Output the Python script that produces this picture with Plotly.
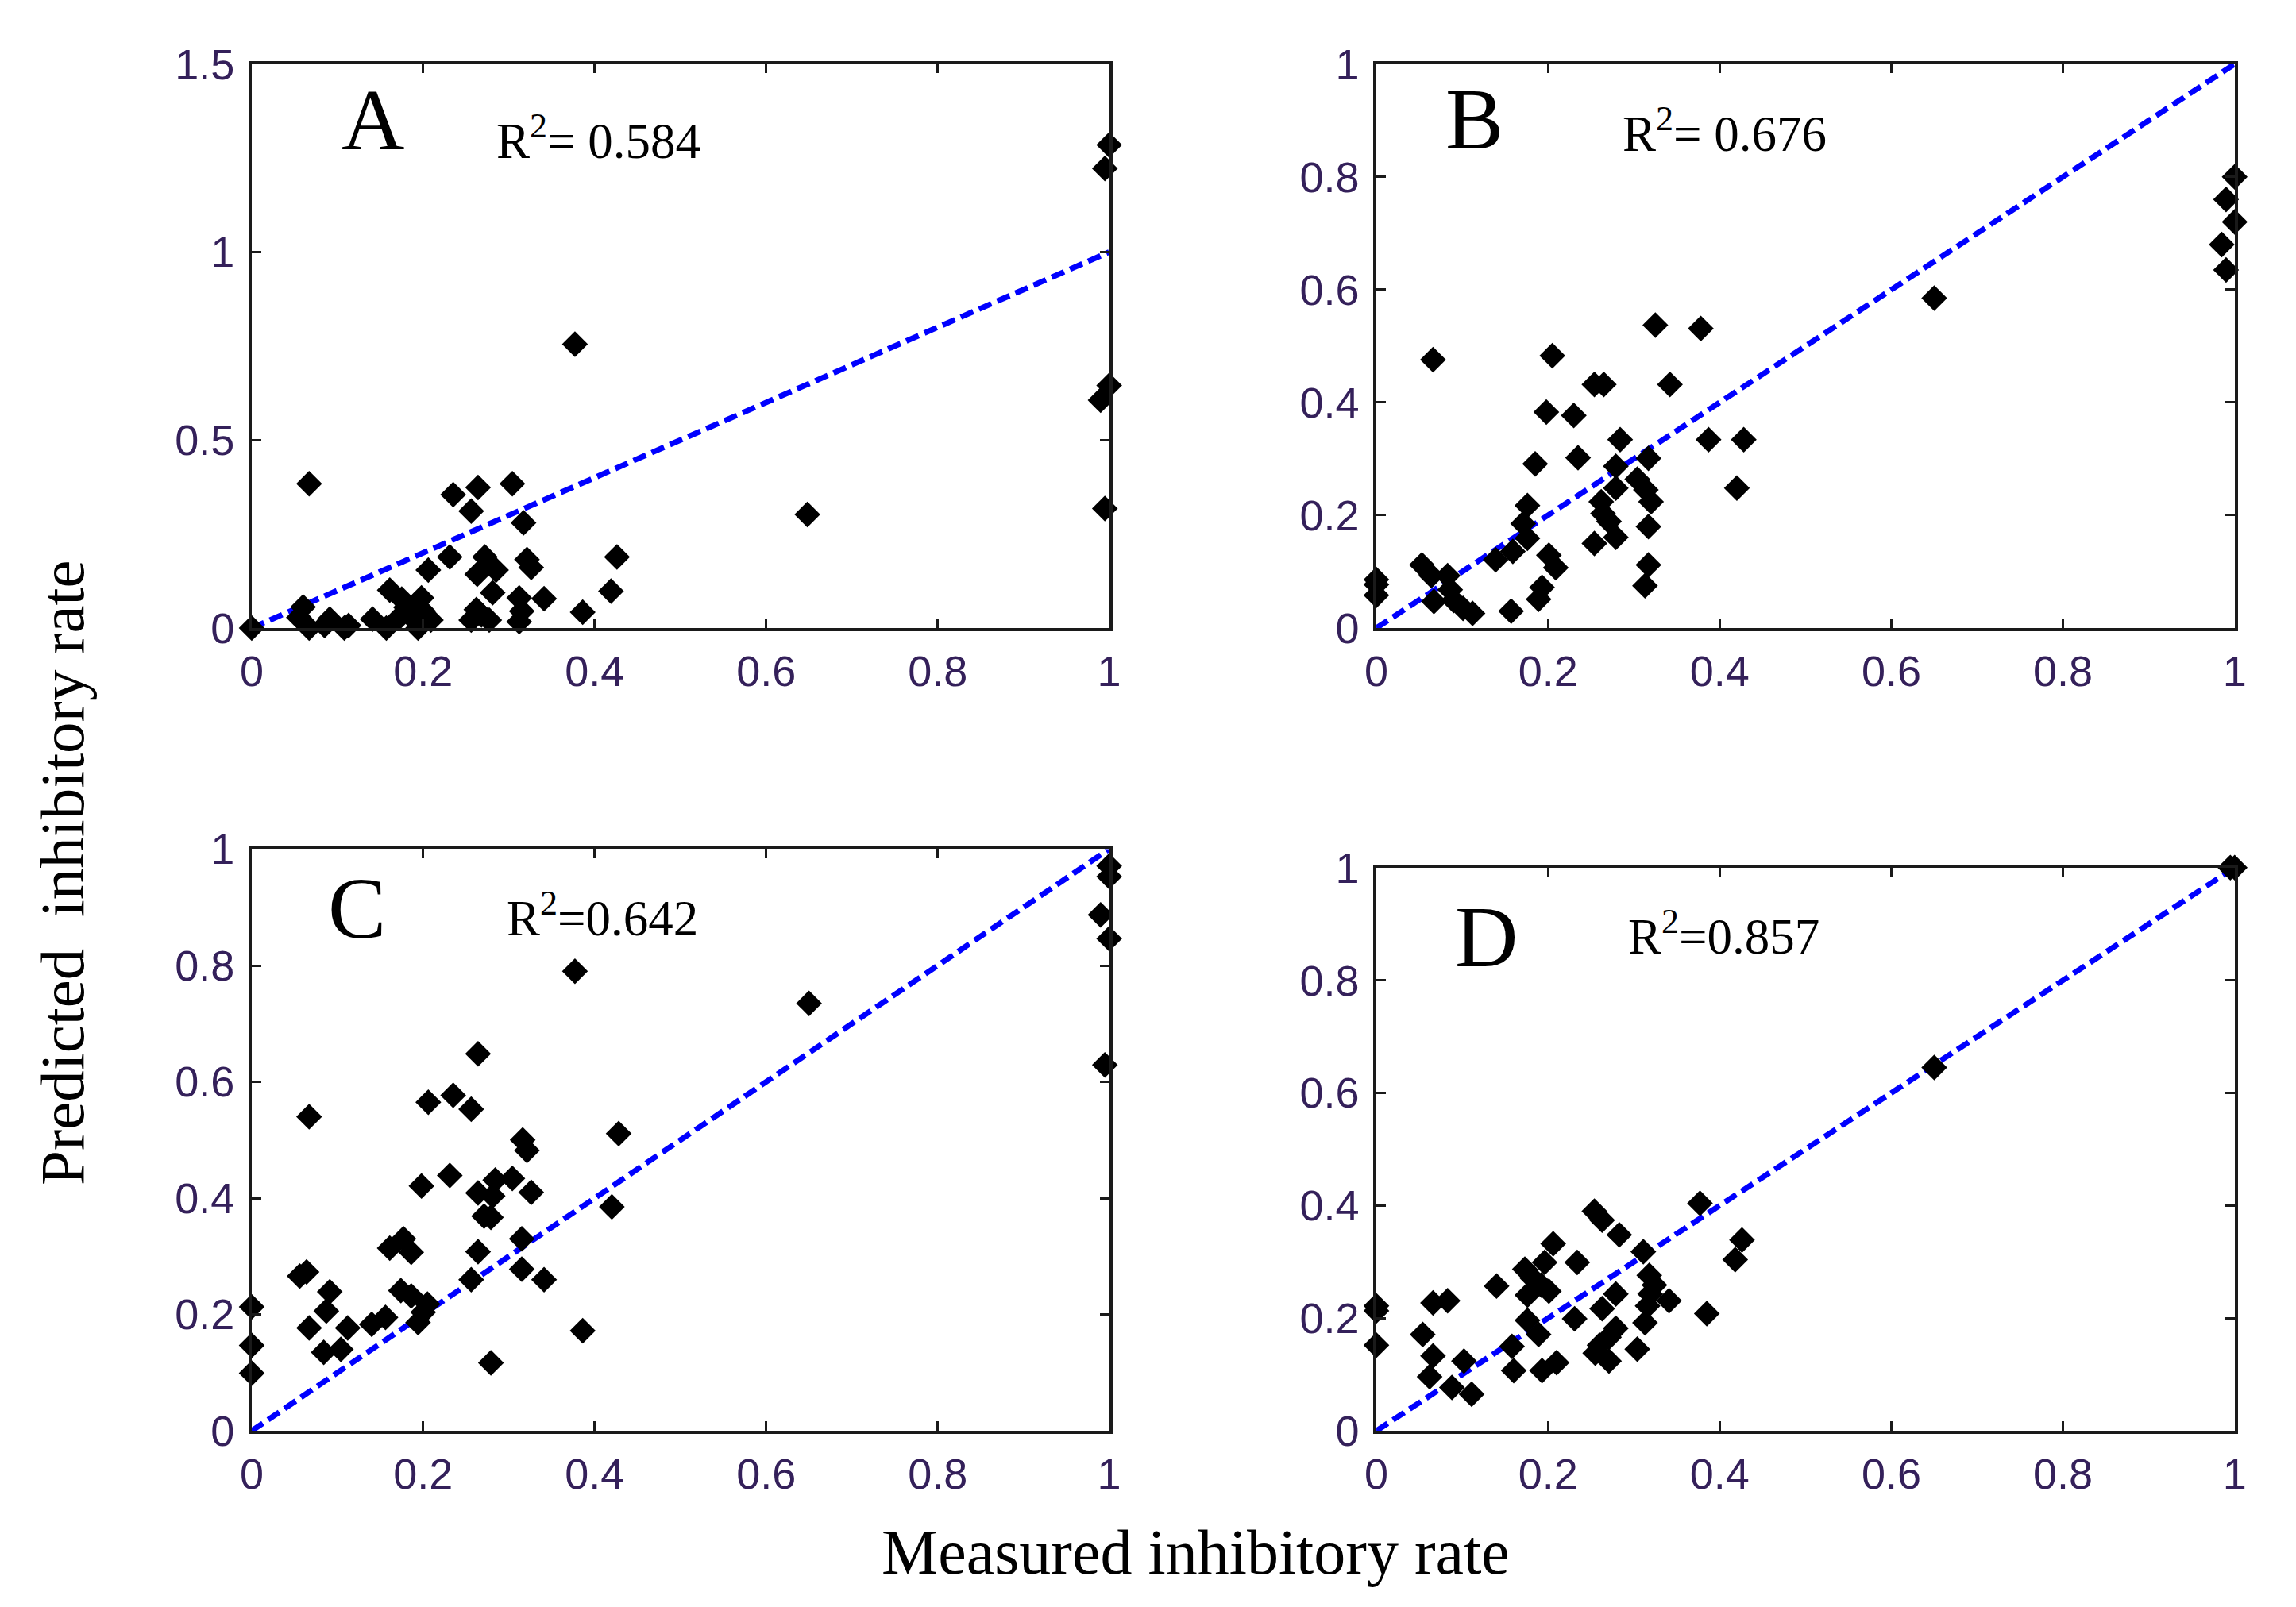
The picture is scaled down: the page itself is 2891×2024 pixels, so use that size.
import plotly.graph_objects as go

# ---------------- data ----------------
a_x = [0, 0.067, 0.06, 0.067, 0.055, 0.091, 0.085, 0.108, 0.113, 0.141, 0.157, 0.161, 0.175, 0.198, 0.184,
       0.194, 0.209, 0.172, 0.18, 0.19, 0.2, 0.206, 0.231, 0.235, 0.264, 0.256, 0.304, 0.317, 0.272, 0.285,
       0.263, 0.281, 0.262, 0.256, 0.277, 0.268, 0.321, 0.326, 0.312, 0.315, 0.312, 0.341, 0.386, 0.426, 0.419,
       0.377, 0.648, 1.0, 0.995, 0.99, 1.0, 0.995]
a_y = [0, 0.384, 0.056, 0.0, 0.028, 0.024, 0.007, 0.0, 0.007, 0.024, 0.0, 0.101, 0.077, 0.08, 0.035,
       0.0, 0.021, 0.028, 0.055, 0.06, 0.045, 0.154, 0.189, 0.355, 0.374, 0.311, 0.384, 0.28, 0.189, 0.154,
       0.143, 0.094, 0.049, 0.021, 0.021, 0.035, 0.182, 0.161, 0.08, 0.045, 0.017, 0.078, 0.042, 0.189, 0.098,
       0.755, 0.302, 1.285, 1.222, 0.606, 0.645, 0.318]

b_x = [0.066, 0.205, 0.325, 0.378, 0.254, 0.265, 0.342, 0.198, 0.23, 0.284, 0.387, 0.428, 0.185, 0.235, 0.317,
       0.279, 0.279, 0.42, 0.304, 0.314, 0.32, 0.262, 0.264, 0.271, 0.279, 0.254, 0.317, 0.317, 0.313, 0.176,
       0.171, 0.176, 0.159, 0.139, 0.201, 0.209, 0.193, 0.189, 0.157, 0, 0, 0, 0.053, 0.064, 0.083,
       0.067, 0.086, 0.09, 0.101, 0.112, 0.65, 1.0, 0.99, 1.0, 0.985, 0.99]
b_y = [0.476, 0.483, 0.537, 0.531, 0.432, 0.432, 0.432, 0.383, 0.377, 0.334, 0.334, 0.334, 0.291, 0.302, 0.301,
       0.287, 0.248, 0.248, 0.264, 0.245, 0.224, 0.224, 0.203, 0.189, 0.161, 0.15, 0.18, 0.112, 0.075, 0.217,
       0.185, 0.159, 0.136, 0.121, 0.129, 0.107, 0.072, 0.051, 0.03, 0.086, 0.077, 0.058, 0.112, 0.093, 0.093,
       0.047, 0.068, 0.049, 0.035, 0.026, 0.585, 0.80, 0.76, 0.72, 0.68, 0.635]

c_x = [0.264, 0.067, 0.206, 0.235, 0.256, 0.428, 0.316, 0.321, 0.231, 0.198, 0.284, 0.304, 0.264, 0.281, 0.326,
       0.271, 0.279, 0.42, 0.315, 0.264, 0.315, 0.341, 0.256, 0.177, 0.161, 0.186, 0.056, 0.064, 0.091, 0.087,
       0.067, 0.112, 0.14, 0.156, 0.174, 0.186, 0.205, 0.2, 0.194, 0.084, 0.104, 0, 0, 0, 0.279,
       0.386, 0.377, 0.65, 1.0, 1.0, 0.99, 1.0, 0.995]
c_y = [0.648, 0.54, 0.565, 0.577, 0.553, 0.511, 0.5, 0.482, 0.439, 0.421, 0.431, 0.434, 0.409, 0.404, 0.41,
       0.369, 0.367, 0.385, 0.33, 0.308, 0.278, 0.26, 0.26, 0.33, 0.314, 0.307, 0.266, 0.273, 0.239, 0.206,
       0.177, 0.177, 0.183, 0.195, 0.241, 0.232, 0.218, 0.204, 0.186, 0.135, 0.14, 0.213, 0.147, 0.099, 0.117,
       0.172, 0.79, 0.735, 0.971, 0.953, 0.887, 0.846, 0.629]

d_x = [0.377, 0.254, 0.263, 0.283, 0.426, 0.418, 0.206, 0.196, 0.234, 0.311, 0.173, 0.182, 0.192, 0.201, 0.176,
       0.14, 0.318, 0.324, 0.319, 0.341, 0.316, 0.313, 0.279, 0.263, 0.385, 0.231, 0.176, 0.189, 0.279, 0.271,
       0.26, 0.255, 0.271, 0.304, 0.158, 0.16, 0.193, 0.21, 0.066, 0.083, 0.054, 0.066, 0.102, 0.062, 0.088,
       0.111, 0, 0, 0, 0.65, 1.0, 0.995]
d_y = [0.404, 0.39, 0.374, 0.348, 0.339, 0.304, 0.332, 0.299, 0.299, 0.318, 0.287, 0.271, 0.259, 0.248, 0.241,
       0.257, 0.276, 0.259, 0.243, 0.231, 0.222, 0.192, 0.243, 0.217, 0.208, 0.199, 0.196, 0.171, 0.182, 0.166,
       0.152, 0.138, 0.124, 0.145, 0.15, 0.107, 0.107, 0.121, 0.227, 0.231, 0.171, 0.133, 0.124, 0.096, 0.077,
       0.065, 0.213, 0.222, 0.152, 0.645, 1.0, 1.0]

line_x = [0, 1]
line_y = [0, 1]

panel_letters = ["A", "B", "C", "D"]
r2_labels = ["R<sup>2</sup>= 0.584", "R<sup>2</sup>= 0.676", "R<sup>2</sup>=0.642", "R<sup>2</sup>=0.857"]

x_ticks = [0, 0.2, 0.4, 0.6, 0.8, 1]
x_ticktext = ["0", "0.2", "0.4", "0.6", "0.8", "1"]
ya_ticks = [0, 0.5, 1, 1.5]
ya_ticktext = ["0", "0.5", "1", "1.5"]
y_ticks = [0, 0.2, 0.4, 0.6, 0.8, 1]
y_ticktext = ["0", "0.2", "0.4", "0.6", "0.8", "1"]

# ---------------- layout geometry ----------------
W, H = 2891, 2024
def px_x(v): return v / W
def px_y(v): return 1 - v / H

domains = {
    1: ([px_x(297), px_x(1388)], [px_y(776), px_y(44)]),
    2: ([px_x(1728), px_x(2820)], [px_y(776), px_y(44)]),
    3: ([px_x(297), px_x(1388)], [px_y(1818), px_y(1063)]),
    4: ([px_x(1728), px_x(2820)], [px_y(1818), px_y(1087)]),
}

fig = go.Figure()

series = [(a_x, a_y), (b_x, b_y), (c_x, c_y), (d_x, d_y)]
for i, (xs, ys) in enumerate(series, start=1):
    xa = "x" if i == 1 else f"x{i}"
    ya = "y" if i == 1 else f"y{i}"
    fig.add_trace(go.Scatter(x=line_x, y=line_y, mode="lines", xaxis=xa, yaxis=ya,
                             line=dict(color="#0000ff", width=7, dash="17px,8px"),
                             showlegend=False, hoverinfo="skip", cliponaxis=False))
    fig.add_trace(go.Scatter(x=xs, y=ys, mode="markers", xaxis=xa, yaxis=ya,
                             marker=dict(symbol="diamond", size=25, color="black", line=dict(width=0)),
                             showlegend=False, cliponaxis=False))

tick_font = dict(family="Liberation Sans Narrow, Arial Narrow, Liberation Sans, Arial", size=54, color="#34205a")
axis_common = dict(showline=True, linecolor="#1a1a1a", linewidth=3.5, mirror="ticks", ticks="inside",
                   ticklen=12, tickwidth=3, tickcolor="#1a1a1a", showgrid=False, zeroline=False,
                   tickfont=tick_font, fixedrange=True)

layout = dict(width=W, height=H, margin=dict(l=0, r=0, t=0, b=0),
              paper_bgcolor="white", plot_bgcolor="white", showlegend=False)
for i in range(1, 5):
    xd, yd = domains[i]
    xk = "xaxis" if i == 1 else f"xaxis{i}"
    yk = "yaxis" if i == 1 else f"yaxis{i}"
    ya = "y" if i == 1 else f"y{i}"
    xa = "x" if i == 1 else f"x{i}"
    layout[xk] = dict(domain=xd, anchor=ya, range=[0, 1], tickvals=x_ticks, ticktext=x_ticktext,
                      ticklabelstandoff=4, **axis_common)
    if i == 1:
        layout[yk] = dict(domain=yd, anchor=xa, range=[0, 1.5], tickvals=ya_ticks, ticktext=ya_ticktext,
                          ticklabelstandoff=7, **axis_common)
    else:
        layout[yk] = dict(domain=yd, anchor=xa, range=[0, 1], tickvals=y_ticks, ticktext=y_ticktext,
                          ticklabelstandoff=7, **axis_common)
fig.update_layout(**layout)

# panel letters and R^2 labels (positions in pixels of the page)
letter_pos = [(451, 116), (1853, 115), (431, 1140), (1868, 1177)]
r2_pos = [(606, 140), (2039, 130), (619, 1149), (2046, 1172)]
serif = "Liberation Serif, Times New Roman, serif"
for lt, (lx, ly) in zip(panel_letters, letter_pos):
    fig.add_annotation(text=lt, xref="paper", yref="paper", x=px_x(lx), y=px_y(ly),
                       xanchor="center", yanchor="middle", showarrow=False,
                       font=dict(family=serif, size=110, color="black"))
for lbl, (rx, ry) in zip(r2_labels, r2_pos):
    fig.add_annotation(text=lbl, xref="paper", yref="paper", x=px_x(rx), y=px_y(ry),
                       xanchor="left", yanchor="middle", showarrow=False,
                       font=dict(family=serif, size=63, color="black"))

fig.add_annotation(text="Measured inhibitory rate", xref="paper", yref="paper",
                   x=px_x(1498), y=px_y(1976), xanchor="center", yanchor="middle", showarrow=False,
                   font=dict(family=serif, size=80, color="black"))
fig.add_annotation(text="Predicted  inhibitory rate", xref="paper", yref="paper",
                   x=px_x(56), y=px_y(1093), xanchor="center", yanchor="middle", showarrow=False,
                   textangle=-90, font=dict(family=serif, size=79, color="black"))

fig.write_html("out.html")
